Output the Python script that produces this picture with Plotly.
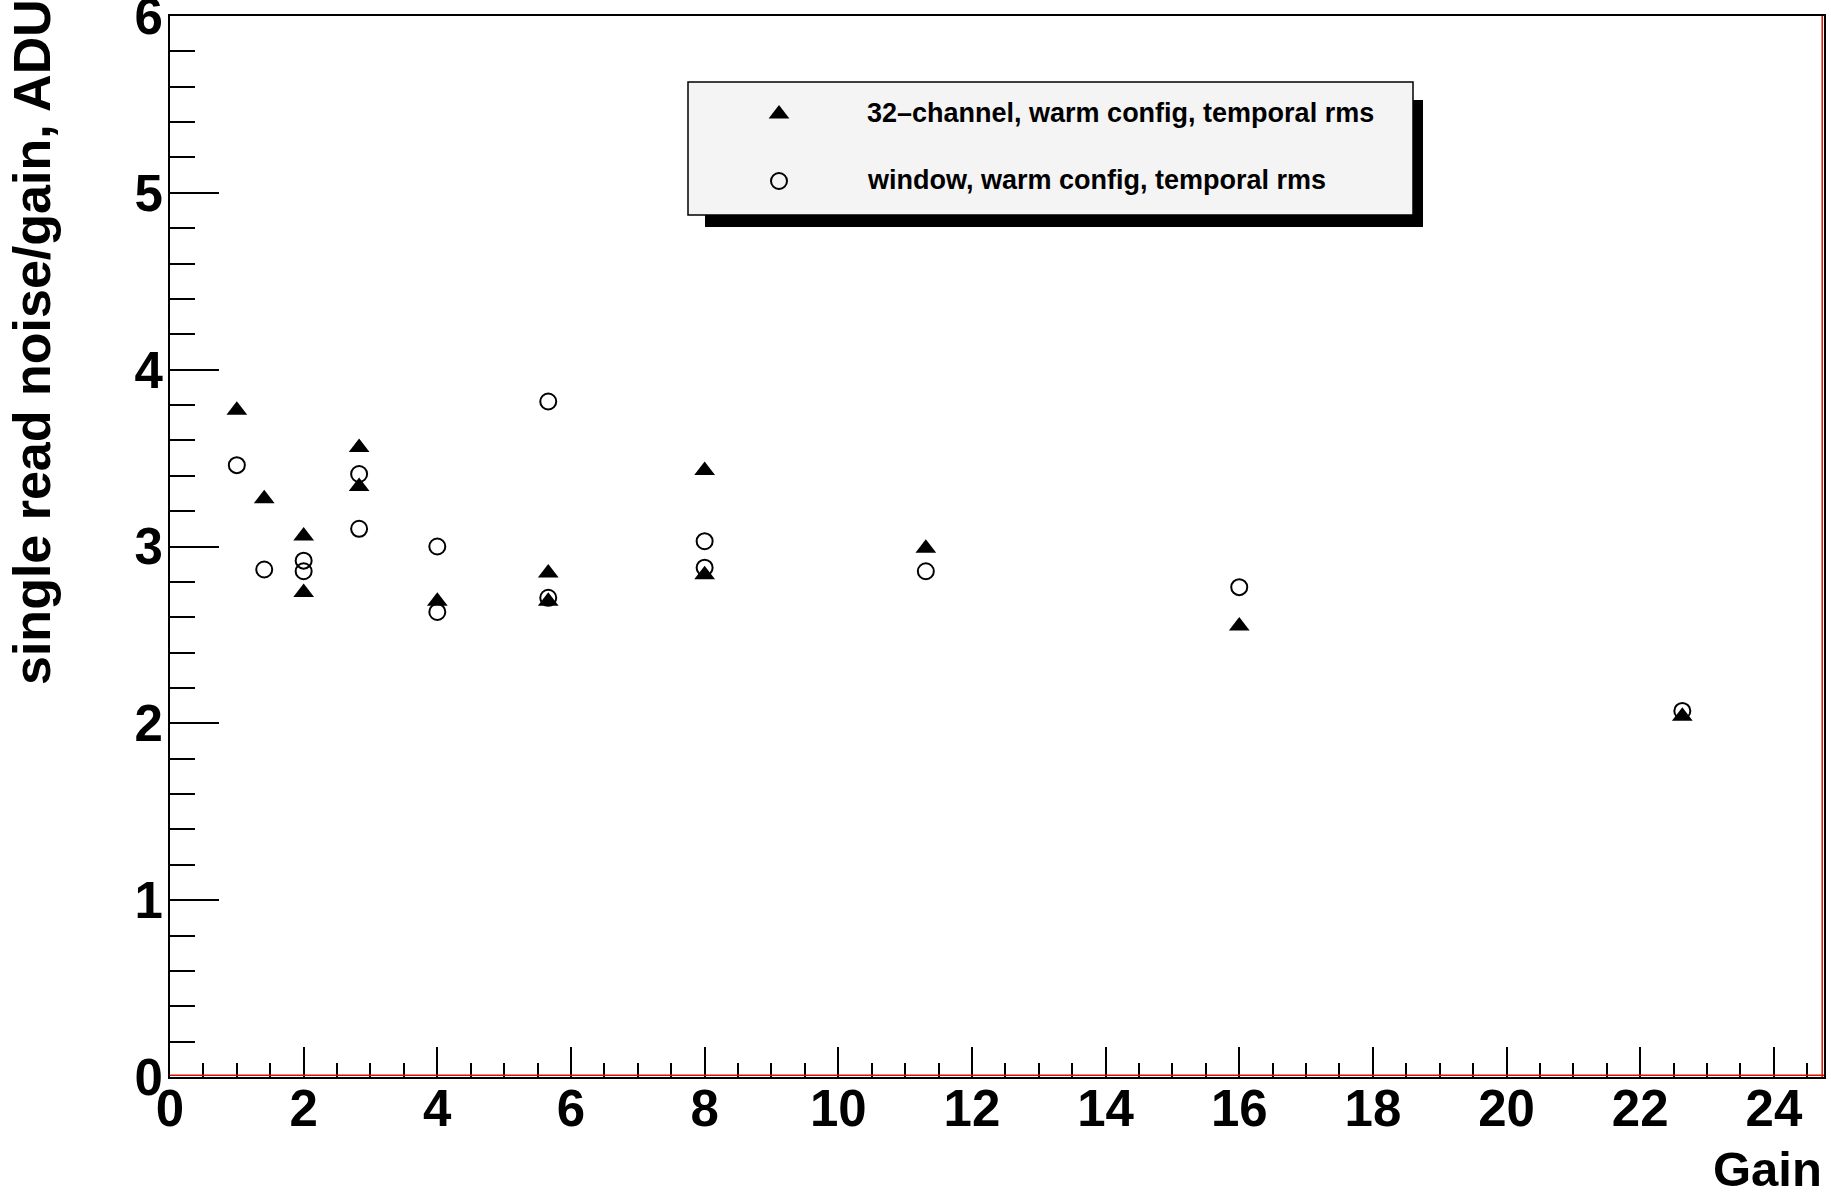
import plotly.graph_objects as go

# ---- data ----
gain_tri = [1, 1.41, 2, 2, 2.83, 2.83, 4, 5.66, 5.66, 8, 8, 11.31, 16, 22.63]
noise_tri = [3.77, 3.27, 3.06, 2.74, 3.56, 3.34, 2.69, 2.85, 2.69, 3.43, 2.84, 2.99, 2.55, 2.04]

gain_circ = [1, 1.41, 2, 2, 2.83, 2.83, 4, 4, 5.66, 5.66, 8, 8, 11.31, 16, 22.63]
noise_circ = [3.46, 2.87, 2.92, 2.86, 3.41, 3.10, 3.00, 2.63, 3.82, 2.71, 3.03, 2.88, 2.86, 2.77, 2.07]

label_tri = "32\u2013channel, warm config, temporal rms"
label_circ = "window, warm config, temporal rms"
x_title = "Gain"
y_title = "single read noise/gain, ADU"

FONT = "Liberation Sans, Arial, Helvetica, sans-serif"
W, H = 1831, 1199
L, R, T, B = 170, 7, 16, 122
pw, ph = W - L - R, H - T - B

def px2paper_x(px):
    return (px - L) / pw

def px2paper_y(py):
    return (H - B - py) / ph

fig = go.Figure()

fig.add_trace(go.Scatter(
    x=gain_circ, y=noise_circ, mode="markers", name=label_circ,
    marker=dict(symbol="circle-open", size=16, color="black", line=dict(width=2, color="black")),
    showlegend=False,
))
fig.add_trace(go.Scatter(
    x=gain_tri, y=noise_tri, mode="markers", name=label_tri,
    marker=dict(symbol="triangle-up", size=18, color="black"),
    showlegend=False,
))

# legend sample markers on an overlay axis in [0,1] paper-like coordinates
leg_x = px2paper_x(779)
leg_y1 = px2paper_y(114)
leg_y2 = px2paper_y(181)
fig.add_trace(go.Scatter(
    x=[leg_x], y=[leg_y1], mode="markers", xaxis="x2", yaxis="y2",
    marker=dict(symbol="triangle-up", size=18, color="black"),
    showlegend=False, hoverinfo="skip",
))
fig.add_trace(go.Scatter(
    x=[leg_x], y=[leg_y2], mode="markers", xaxis="x2", yaxis="y2",
    marker=dict(symbol="circle-open", size=16, color="black", line=dict(width=2, color="black")),
    showlegend=False, hoverinfo="skip",
))

shapes = []
# legend shadow and box
shapes.append(dict(type="rect", xref="paper", yref="paper",
                   x0=px2paper_x(705), x1=px2paper_x(1423),
                   y0=px2paper_y(227), y1=px2paper_y(100),
                   fillcolor="black", line=dict(width=0), layer="below"))
shapes.append(dict(type="rect", xref="paper", yref="paper",
                   x0=px2paper_x(688), x1=px2paper_x(1413),
                   y0=px2paper_y(215), y1=px2paper_y(82),
                   fillcolor="#f4f4f4", line=dict(width=1.5, color="black"), layer="below"))
# red inner frame lines (bottom, right)
shapes.append(dict(type="line", xref="paper", yref="paper",
                   x0=0, x1=1, y0=1.8 / ph, y1=1.8 / ph,
                   line=dict(color="#dd1100", width=1.5), layer="above"))
shapes.append(dict(type="line", xref="paper", yref="paper",
                   x0=1 - 1.8 / pw, x1=1 - 1.8 / pw, y0=0, y1=1,
                   line=dict(color="#dd1100", width=1.5), layer="above"))

annotations = [
    dict(text="<b>" + label_tri + "</b>", xref="paper", yref="paper", x=px2paper_x(865), y=px2paper_y(113),
         xanchor="left", yanchor="middle", showarrow=False,
         font=dict(family=FONT, size=27, color="black")),
    dict(text="<b>" + label_circ + "</b>", xref="paper", yref="paper", x=px2paper_x(865), y=px2paper_y(180),
         xanchor="left", yanchor="middle", showarrow=False,
         font=dict(family=FONT, size=27, color="black")),
    dict(text="<b>" + x_title + "</b>", xref="paper", yref="paper", x=px2paper_x(1824), y=px2paper_y(1169),
         xanchor="right", yanchor="middle", showarrow=False,
         font=dict(family=FONT, size=49, color="black")),
    dict(text="<b>" + y_title + "</b>", xref="paper", yref="paper", x=px2paper_x(32), y=px2paper_y(-3),
         xanchor="center", yanchor="top", textangle=-90, showarrow=False,
         font=dict(family=FONT, size=52, color="black")),
]

fig.update_layout(
    width=W, height=H,
    margin=dict(l=L, r=R, t=T, b=B, pad=0, autoexpand=False),
    paper_bgcolor="white", plot_bgcolor="white",
    font=dict(family=FONT, color="black"),
    shapes=shapes, annotations=annotations,
    showlegend=False,
    xaxis=dict(
        range=[0, 24.75], showgrid=False, zeroline=False, automargin=False,
        showline=True, linecolor="black", linewidth=2, mirror=True,
        ticks="inside", ticklen=30, tickwidth=2, tickcolor="black",
        tick0=0, dtick=2, ticklabelstandoff=-14, ticklabeloverflow="allow",
        minor=dict(ticks="inside", ticklen=14, tickwidth=2, tickcolor="black", dtick=0.5, showgrid=False),
        tickfont=dict(family=FONT, size=51, color="black", weight="bold"),
    ),
    yaxis=dict(
        range=[0, 6], showgrid=False, zeroline=False, automargin=False,
        showline=True, linecolor="black", linewidth=2, mirror=True,
        ticks="inside", ticklen=49, tickwidth=2, tickcolor="black",
        tick0=0, dtick=1, ticklabelstandoff=-5, ticklabeloverflow="allow",
        minor=dict(ticks="inside", ticklen=25, tickwidth=2, tickcolor="black", dtick=0.2, showgrid=False),
        tickfont=dict(family=FONT, size=51, color="black", weight="bold"),
    ),
    xaxis2=dict(domain=[0, 1], range=[0, 1], overlaying="x", visible=False, fixedrange=True),
    yaxis2=dict(domain=[0, 1], range=[0, 1], overlaying="y", visible=False, fixedrange=True),
)

fig.write_html(
    "out.html",
    config={"displayModeBar": False},
    post_script="document.body.style.margin='0';document.body.style.overflow='hidden';",
)
